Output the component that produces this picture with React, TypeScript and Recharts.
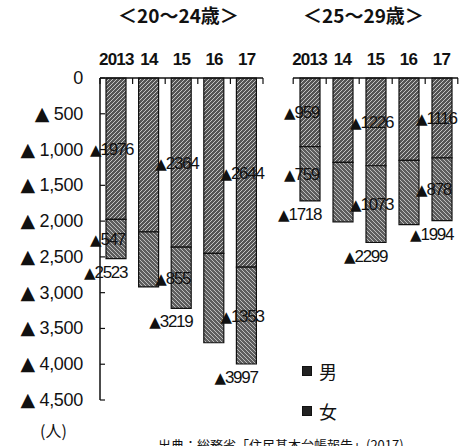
import { BarChart, Bar, XAxis, YAxis, LabelList } from 'recharts';

const years = ['2013', '14', '15', '16', '17'];
const labeled = [true, false, true, false, true];

// 20～24歳
const male2024 = [1976, 2150, 2364, 2450, 2644];
const female2024 = [547, 770, 855, 1250, 1353];

// 25～29歳
const male2529 = [959, 1180, 1226, 1150, 1116];
const female2529 = [759, 830, 1073, 900, 878];

const yTicks = [0, 500, 1000, 1500, 2000, 2500, 3000, 3500, 4000, 4500];

const W = 469;
const H = 446;
const BAND = 32.6;
const LABEL_FONT = '"Liberation Sans", Arial, sans-serif';
const TRI_FONT = '"DejaVu Sans", sans-serif';
const JP_FONT = '"Noto Sans CJK JP", sans-serif';

const build = (male: number[], female: number[]) =>
  years.map((y, i) => ({
    year: y,
    male: male[i],
    female: female[i],
    total: male[i] + female[i],
    show: labeled[i],
  }));

const data2024 = build(male2024, female2024);
const data2529 = build(male2529, female2529);

function YTick(props: any) {
  const { y, payload } = props;
  const v = payload.value as number;
  return (
    <g>
      <text
        x={83}
        y={y}
        dy={6}
        textAnchor="end"
        fontSize={18}
        fontFamily={LABEL_FONT}
        letterSpacing={-0.3}
        fill="#111"
      >
        {v !== 0 && (
          <tspan fontFamily={TRI_FONT} fontSize={19}>
            ▲
          </tspan>
        )}
        {v === 0 ? '0' : ' ' + v.toLocaleString('en-US')}
      </text>
      <line x1={100} x2={105} y1={y} y2={y} stroke="#111" strokeWidth={1.2} />
    </g>
  );
}

function XTick(props: any) {
  const { x, payload, index } = props;
  return (
    <g>
      <text
        x={x}
        y={65}
        textAnchor="middle"
        fontSize={17}
        fontWeight="bold"
        fontFamily={LABEL_FONT}
        letterSpacing={-0.8}
        fill="#111"
      >
        {payload.value}
      </text>
      <line x1={x - BAND / 2} x2={x - BAND / 2} y1={78} y2={84} stroke="#111" strokeWidth={1.2} />
      {index === years.length - 1 && (
        <line x1={x + BAND / 2} x2={x + BAND / 2} y1={78} y2={84} stroke="#111" strokeWidth={1.2} />
      )}
    </g>
  );
}

function Tri({ v }: { v: number }) {
  return (
    <>
      <tspan fontFamily={TRI_FONT} fontSize={15} letterSpacing={-1}>
        ▲
      </tspan>
      {v}
    </>
  );
}

function segLabel(withTotal: boolean, rows: any[]) {
  return (props: any) => {
    const { x, y, height, value, index } = props;
    const row = rows[index];
    if (!row || !row.show) return null;
    const top = Math.min(y, y + height);
    const h = Math.abs(height);
    return (
      <g fontFamily={LABEL_FONT} fontSize={17} letterSpacing={-1.3} fill="#111">
        <text x={x - 16} y={top + h / 2 + 6}>
          <Tri v={value} />
        </text>
        {withTotal && (
          <text x={x - 22} y={top + h + 19}>
            <Tri v={row.total} />
          </text>
        )}
      </g>
    );
  };
}

function Patterns() {
  return (
    <defs>
      <pattern id="pMale" width="4" height="4" patternUnits="userSpaceOnUse">
        <rect width="4" height="4" fill="#555" />
        <path d="M0 4 L4 0" stroke="#c4c4c4" strokeWidth="1" />
      </pattern>
      <pattern id="pFemale" width="4" height="4" patternUnits="userSpaceOnUse">
        <rect width="4" height="4" fill="#5e5e5e" />
        <path d="M0 0 L4 4" stroke="#bdbdbd" strokeWidth="1" />
      </pattern>
    </defs>
  );
}

function Group({ data, withAxis }: { data: any[]; withAxis: boolean }) {
  return (
    <BarChart
      width={W}
      height={H}
      data={data}
      margin={
        withAxis
          ? { top: 48, right: W - 263, bottom: 46, left: 0 }
          : { top: 48, right: W - 458, bottom: 46, left: 293 }
      }
      barSize={20}
    >
      <Patterns />
      <XAxis
        dataKey="year"
        orientation="top"
        height={30}
        axisLine={{ stroke: '#111', strokeWidth: 1.5 }}
        tickLine={false}
        tick={<XTick />}
        interval={0}
      />
      {withAxis ? (
        <YAxis
          reversed
          domain={[0, 4500]}
          ticks={yTicks}
          width={100}
          axisLine={{ stroke: '#111', strokeWidth: 1.5 }}
          tickLine={false}
          tick={<YTick />}
          interval={0}
        />
      ) : (
        <YAxis reversed domain={[0, 4500]} ticks={yTicks} hide />
      )}
      <Bar dataKey="male" stackId="a" fill="url(#pMale)" stroke="#111" strokeWidth={1.2} isAnimationActive={false}>
        <LabelList dataKey="male" content={segLabel(false, data)} />
      </Bar>
      <Bar dataKey="female" stackId="a" fill="url(#pFemale)" stroke="#111" strokeWidth={1.2} isAnimationActive={false}>
        <LabelList dataKey="female" content={segLabel(true, data)} />
      </Bar>
    </BarChart>
  );
}

export default function App() {
  const title = {
    position: 'absolute' as const,
    top: 0,
    fontFamily: JP_FONT,
    fontWeight: 700,
    fontSize: 19,
    color: '#111',
    lineHeight: '30px',
  };
  const legendItem = {
    position: 'absolute' as const,
    left: 302,
    display: 'flex',
    alignItems: 'center',
    fontFamily: JP_FONT,
    fontSize: 18,
    color: '#111',
  };
  const swatch = {
    width: 8,
    height: 8,
    background: '#222',
    marginRight: 7,
    border: '1px solid #111',
  };
  return (
    <div
      style={{
        position: 'absolute',
        left: 0,
        top: 0,
        width: W,
        height: H,
        background: '#fff',
        overflow: 'hidden',
      }}
    >
      <div style={{ position: 'absolute', left: 0, top: 0 }}>
        <Group data={data2024} withAxis />
      </div>
      <div style={{ position: 'absolute', left: 0, top: 0 }}>
        <Group data={data2529} withAxis={false} />
      </div>
      <div style={{ ...title, left: 118 }}>＜20～24歳＞</div>
      <div style={{ ...title, left: 303 }}>＜25～29歳＞</div>
      <div style={{ ...legendItem, top: 358 }}>
        <span style={swatch} />
        男
      </div>
      <div style={{ ...legendItem, top: 398 }}>
        <span style={swatch} />
        女
      </div>
      <div
        style={{
          position: 'absolute',
          left: 40,
          top: 418,
          fontFamily: JP_FONT,
          fontSize: 16,
          color: '#111',
        }}
      >
        (人)
      </div>
      <div
        style={{
          position: 'absolute',
          left: 158,
          top: 435,
          fontFamily: JP_FONT,
          fontSize: 13,
          color: '#111',
          whiteSpace: 'nowrap',
        }}
      >
        出典：総務省「住民基本台帳報告」(2017)
      </div>
    </div>
  );
}
